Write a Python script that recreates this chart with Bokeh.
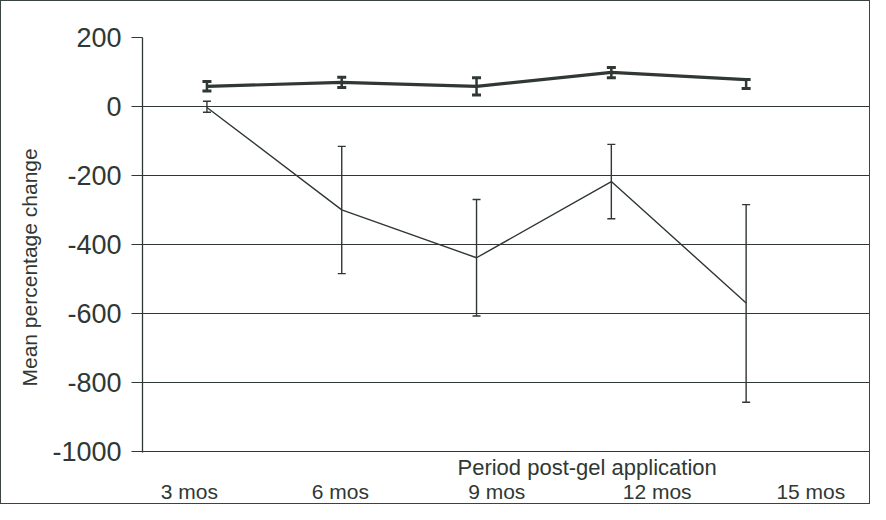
from bokeh.plotting import figure
from bokeh.models import Range1d, LinearAxis, FixedTicker, Whisker, ColumnDataSource, Title
from bokeh.embed import file_html
from bokeh.resources import INLINE

# ---- data ----
periods = ["3 mos", "6 mos", "9 mos", "12 mos", "15 mos"]
series_a = [58, 70, 58, 99, 78]
series_a_upper = [72, 85, 83, 113, 78]
series_a_lower = [45, 55, 33, 83, 52]
series_b = [-3, -300, -439, -218, -570]
series_b_upper = [15, -116, -270, -110, -285]
series_b_lower = [-17, -485, -608, -326, -858]
y_ticks = [200, 0, -200, -400, -600, -800, -1000]
x_title = "Period post-gel application"
y_title = "Mean percentage change"

# ---- layout constants ----
INK = "#2f3833"
FONT = "Liberation Sans"
idx = list(range(len(periods)))
label_pos = [-0.13, 0.99, 2.15, 3.34, 4.48]

p = figure(width=870, height=504, output_backend="svg", toolbar_location=None,
           x_axis_location=None, y_axis_location=None,
           x_range=Range1d(-0.478, 4.93), y_range=Range1d(-1004, 200),
           min_border_left=141, min_border_right=0, min_border_top=36, min_border_bottom=0,
           background_fill_color="white", border_fill_color="white")
p.outline_line_color = None
p.styles = {"border": "1px solid #3a4540"}

yax = LinearAxis(ticker=FixedTicker(ticks=y_ticks))
yax.major_label_overrides = {t: str(t) for t in y_ticks}
yax.major_tick_in = 0
yax.major_tick_out = 11
yax.minor_tick_line_color = None
yax.major_tick_line_color = INK
yax.axis_line_color = INK
yax.axis_line_width = 1.3
yax.major_label_text_font = FONT
yax.major_label_text_font_size = "27px"
yax.major_label_text_color = INK
yax.major_label_standoff = 10
p.add_layout(yax, "left")

ytl = Title(text=y_title, align="left", offset=66, standoff=18,
            text_font=FONT, text_font_size="21px", text_font_style="normal",
            text_color=INK)
p.add_layout(ytl, "left")

ttl = Title(text=x_title, align="left", offset=315, standoff=0,
            text_font=FONT, text_font_size="22px", text_font_style="normal",
            text_color=INK)
p.add_layout(ttl, "below")

xax = LinearAxis(ticker=FixedTicker(ticks=label_pos))
xax.major_label_overrides = {pos: lab for pos, lab in zip(label_pos, periods)}
xax.major_tick_in = 0
xax.major_tick_out = 0
xax.minor_tick_line_color = None
xax.axis_line_color = None
xax.major_label_text_font = FONT
xax.major_label_text_font_size = "21px"
xax.major_label_text_color = INK
xax.major_label_standoff = 0
p.add_layout(xax, "below")

p.xgrid.visible = False
p.ygrid.ticker = FixedTicker(ticks=y_ticks)
p.ygrid.grid_line_color = INK
p.ygrid.grid_line_width = 1.2

src = ColumnDataSource(dict(x=idx, a=series_a, au=series_a_upper, al=series_a_lower,
                            b=series_b, bu=series_b_upper, bl=series_b_lower))

p.line("x", "b", source=src, line_color=INK, line_width=1.4)
wb = Whisker(base="x", upper="bu", lower="bl", source=src,
             line_color=INK, line_width=1.4)
for h in (wb.upper_head, wb.lower_head):
    h.size = 8
    h.line_color = INK
    h.line_width = 1.4
p.add_layout(wb)

p.line("x", "a", source=src, line_color=INK, line_width=3.2)
wa = Whisker(base="x", upper="au", lower="al", source=src,
             line_color=INK, line_width=2.5)
for h in (wa.upper_head, wa.lower_head):
    h.size = 9
    h.line_color = INK
    h.line_width = 3
p.add_layout(wa)

open("out.html", "w").write(file_html(p, INLINE))
